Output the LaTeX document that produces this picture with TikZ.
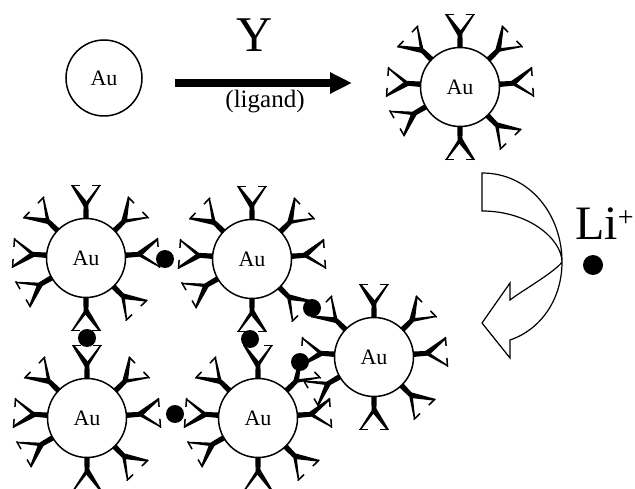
\documentclass[tikz,border=0pt]{standalone}
\usepackage{fontspec}
\setmainfont{Liberation Serif}
\usetikzlibrary{arrows.meta}

% one Y-shaped ligand, stem along +x starting at the local origin
\newcommand\ligandpaths{%
  \fill (-3,-2.8) -- (14,-2.4) -- (14,2.4) -- (-3,2.8) -- cycle;
  \fill (15.61,-2.29) -- (34.23,12.95) -- (33.09,14.59) -- (12.39,2.29) -- cycle;
  \fill (12.97,-1.47) -- (33.26,-14.34) -- (34.06,-13.20) -- (15.03,1.47) -- cycle;
  \draw[ligtip] (33.66,6) -- (33.66,15);
  \draw[ligtip] (33.66,-6) -- (33.66,-15);
}

\tikzset{
  x=1pt, y=1pt,
  ligtip/.style={line width=1.5pt},
  aucore/.style={circle, draw, line width=1.5pt, fill=white, minimum size=79pt,
    inner sep=0pt, font=\fontsize{22}{24}\selectfont},
  barecore/.style={aucore, minimum size=76pt},
  liion/.style={circle, fill=black, minimum size=18pt, inner sep=0pt},
  % gold particle capped by eight ligands
  particle/.pic={
    \foreach \a in {90,44,4,-46,-90,-150,176,136}{
      \begin{scope}[rotate=\a, shift={(39,0)}]
        \ligandpaths
      \end{scope}
    }
    \node[aucore] (-core) at (0,0) {Au};
  }
}

\begin{document}
\begin{tikzpicture}
\useasboundingbox (0,0) rectangle (635,-489);

% bare particle, reaction arrow and capped particle
\node[barecore] (bare) at (104,-78) {Au};
\coordinate (arrS) at (175,-83);
\coordinate (arrE) at (352,-83);
\draw[line width=7.2pt, -{Triangle[length=22pt,width=20pt]}] (arrS) -- (arrE);
\node[font=\fontsize{50}{50}\selectfont, anchor=base] (ylab) at (255,-52) {Y};
\node[font=\fontsize{25}{25}\selectfont, anchor=base, inner sep=0pt] (liglab) at (265,-107.5) {(ligand)};
\pic (cap) at (460,-87) {particle};

% hollow curved arrow with the lithium ion
\draw[line width=1.2pt, fill=white]
  (482,-173) .. controls (530,-173) and (562,-215) .. (562,-262)
  .. controls (562,-300) and (540,-330) .. (510,-340)
  -- (510,-358) -- (482,-323) -- (510,-283) -- (510,-300)
  .. controls (520,-292) and (555,-272) .. (562,-262)
  .. controls (562,-240) and (530,-211) .. (482,-211) -- cycle;
\node[font=\fontsize{48}{48}\selectfont, anchor=base west, inner sep=0pt] (lilab) at (575,-240)
  {Li\raisebox{13pt}{\fontsize{28}{28}\selectfont +}};
\node[liion, minimum size=20pt] (li) at (593,-265) {};

% aggregated particles bridged by Li+ ions
\pic (p1) at (86,-258) {particle};
\pic (p2) at (252,-259) {particle};
\pic (p3) at (87,-418) {particle};
\pic (p4) at (258,-418) {particle};
\pic (p5) at (374,-357) {particle};

\node[liion] (d1) at (165,-259) {};
\node[liion] (d2) at (87,-338) {};
\node[liion] (d3) at (250,-339) {};
\node[liion] (d4) at (312,-308) {};
\node[liion] (d5) at (300,-362) {};
\node[liion] (d6) at (175,-414) {};
\end{tikzpicture}
\end{document}
